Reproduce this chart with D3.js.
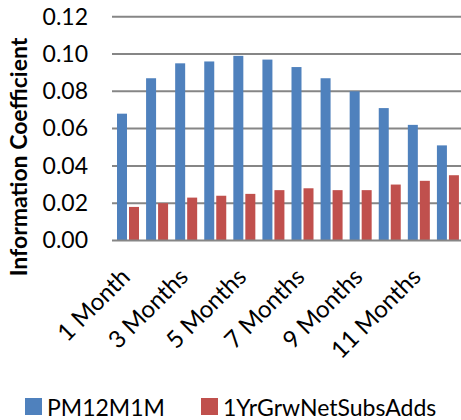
<!DOCTYPE html>
<html>
<head>
<meta charset="utf-8">
<script src="https://cdn.jsdelivr.net/npm/d3@7"></script>
<style>
  html, body { margin: 0; padding: 0; background: #fff; }
  svg { display: block; }
  text { font-family: Lato, "Open Sans", sans-serif; fill: #000; }
</style>
</head>
<body>
<svg id="chart" width="461" height="420"></svg>
<script>
// Horizon labels (every month; only odd ones get a tick label)
const categories = ["1 Month", "2 Months", "3 Months", "4 Months", "5 Months", "6 Months",
                    "7 Months", "8 Months", "9 Months", "10 Months", "11 Months", "12 Months"];
const seriesNames = ["PM12M1M", "1YrGrwNetSubsAdds"];
const pm12m1m = [0.068, 0.087, 0.095, 0.096, 0.099, 0.097, 0.093, 0.087, 0.080, 0.071, 0.062, 0.051];
const netSubsAdds = [0.018, 0.020, 0.023, 0.024, 0.025, 0.027, 0.028, 0.027, 0.027, 0.030, 0.032, 0.035];
const yTicks = [0, 0.02, 0.04, 0.06, 0.08, 0.10, 0.12];
const colors = ["#4F81BD", "#C0504D"];

const values = [pm12m1m, netSubsAdds];
const svg = d3.select("#chart");

const plot = { left: 112, right: 461, top: 16.7, bottom: 240.5 };

const x = d3.scaleBand().domain(categories).range([plot.left, plot.right]);
const xSub = d3.scaleBand().domain(seriesNames).range([5, 27]).paddingInner(1 / 6);
const y = d3.scaleLinear().domain([0, 0.12]).range([plot.bottom, plot.top]);

// Horizontal gridlines
svg.append("g").selectAll("line").data(yTicks.slice(1)).join("line")
  .attr("x1", plot.left).attr("x2", plot.right)
  .attr("y1", d => y(d)).attr("y2", d => y(d))
  .attr("stroke", "#868686").attr("stroke-width", 2);

// Bars
const groups = svg.append("g").selectAll("g").data(categories).join("g")
  .attr("transform", d => `translate(${x(d)},0)`);
groups.selectAll("rect")
  .data((c, i) => seriesNames.map((s, k) => ({ s, v: values[k][i], k })))
  .join("rect")
  .attr("x", d => xSub(d.s))
  .attr("width", xSub.bandwidth())
  .attr("y", d => y(d.v))
  .attr("height", d => y(0) - y(d.v))
  .attr("fill", d => colors[d.k]);

// Baseline
svg.append("line")
  .attr("x1", plot.left).attr("x2", plot.right)
  .attr("y1", y(0)).attr("y2", y(0))
  .attr("stroke", "#868686").attr("stroke-width", 2);

// Y axis labels
const yAxis = d3.axisLeft(y).tickValues(yTicks).tickFormat(d3.format(".2f")).tickSize(0).tickPadding(0);
const yg = svg.append("g").attr("transform", "translate(88,0)").call(yAxis);
yg.select(".domain").remove();
yg.selectAll("text").style("font-size", "23px").style("font-family", "Lato, sans-serif").attr("fill", "#000");

// Y axis title
svg.append("text")
  .attr("transform", "translate(27,157) rotate(-90)")
  .attr("text-anchor", "middle")
  .style("font-size", "23px").style("font-weight", "bold")
  .text("Information Coefficient");

// X axis labels, rotated
const xAxis = d3.axisBottom(x)
  .tickValues(categories.filter((d, i) => i % 2 === 0))
  .tickSize(0).tickPadding(0);
const xg = svg.append("g").attr("transform", `translate(0,${plot.bottom})`).call(xAxis);
xg.select(".domain").remove();
xg.selectAll(".tick text")
  .style("font-size", "24px").style("font-family", "Lato, sans-serif").attr("fill", "#000")
  .attr("text-anchor", "end")
  .attr("dy", "0")
  .attr("y", 0)
  .attr("transform", "translate(5,38) rotate(-45)");

// Legend
const legend = svg.append("g");
const legendX = [25, 201];
seriesNames.forEach((s, k) => {
  legend.append("rect").attr("x", legendX[k]).attr("y", 398).attr("width", 17).attr("height", 17).attr("fill", colors[k]);
  legend.append("text").attr("x", legendX[k] + 22).attr("y", 416).style("font-size", "23px").text(s);
});
</script>
</body>
</html>
